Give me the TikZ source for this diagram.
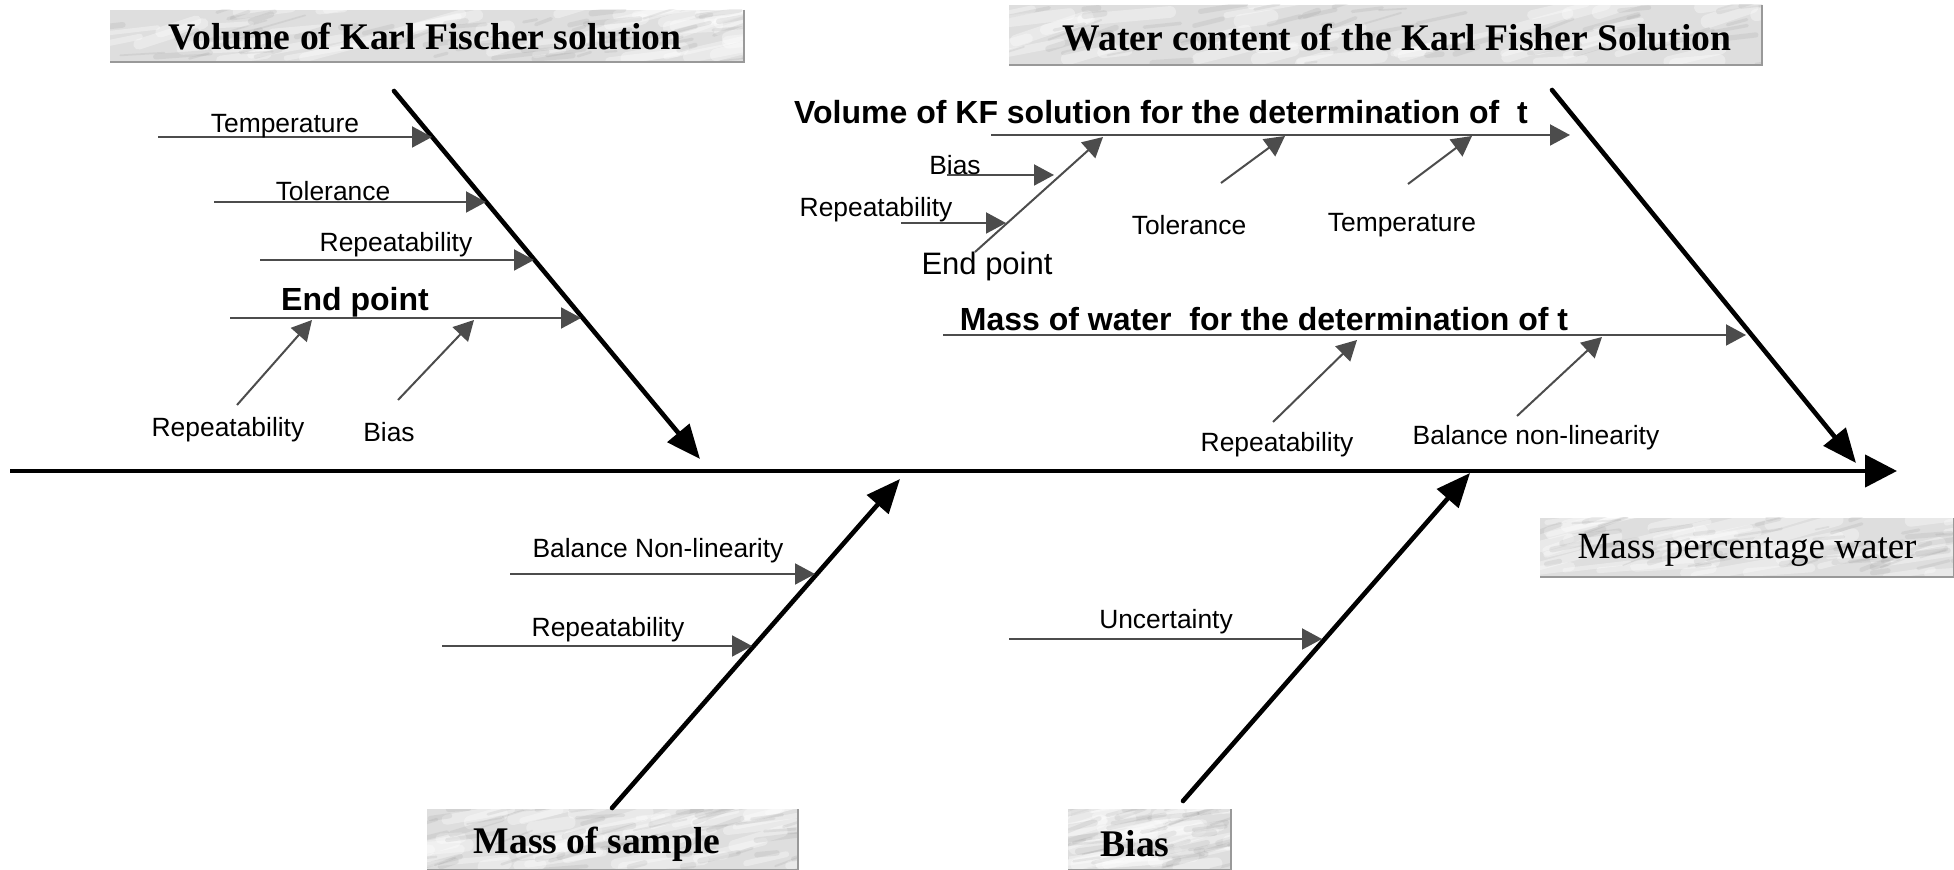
\documentclass[tikz,border=0pt]{standalone}
\usepackage{fontspec}
\setmainfont{Liberation Serif}
\setsansfont{Liberation Sans}
\usetikzlibrary{arrows.meta}

% marble-textured label panel: corners (x1,y1) and (x2,y2)
\newcommand\marblebox[4]{%
  \begin{scope}
    \clip (#1,#2) rectangle (#3,#4);
    \fill[marblebase] (#1,#2) rectangle (#3,#4);
    \foreach \k in {1,...,45}{%
      \pgfmathsetmacro\mx{#1-40+(#3-#1+40)*rnd}%
      \pgfmathsetmacro\my{#2+(#4-#2)*rnd}%
      \pgfmathsetmacro\ml{20+70*rnd}%
      \pgfmathsetmacro\ms{-0.05-0.3*rnd}%
      \pgfmathsetmacro\mw{2+5*rnd}%
      \draw[marblelight, line width=\mw pt] (\mx,\my) -- ++(\ml,\ml*\ms);
    }%
    \foreach \k in {1,...,55}{%
      \pgfmathsetmacro\mx{#1-40+(#3-#1+40)*rnd}%
      \pgfmathsetmacro\my{#2+(#4-#2)*rnd}%
      \pgfmathsetmacro\ml{10+45*rnd}%
      \pgfmathsetmacro\ms{-0.05-0.35*rnd}%
      \pgfmathsetmacro\mw{0.6+2.6*rnd}%
      \draw[marbledark, line width=\mw pt] (\mx,\my) -- ++(\ml,\ml*\ms);
    }%
  \end{scope}
  \draw[boxedge] (#3,#2) -- (#3,#4) -- (#1,#4);
}

\begin{document}
\begin{tikzpicture}[x=0.5pt,y=-0.5pt,
  marblebase/.style={fill=black!13},
  marblelight/.style={draw=white, opacity=.35, line cap=round},
  marbledark/.style={draw=black!50, opacity=.13, line cap=round},
  boxedge/.style={draw=black!40, line width=1.4pt},
  spine/.style={line width=2.2pt, -{Triangle[length=16pt,width=16pt]}},
  bone/.style={line width=2.3pt, line cap=round, -{Triangle[length=17pt,width=14pt]}},
  twig/.style={draw=black!70, line width=1pt, -{Triangle[length=10pt,width=10.5pt]}},
  lbl/.style={font=\sffamily\fontsize{13.2}{15}\selectfont, inner sep=0pt, yshift=-1.5pt},
  biglbl/.style={font=\sffamily\fontsize{15.5}{18}\selectfont, inner sep=0pt},
  blbl/.style={font=\sffamily\bfseries\fontsize{16}{18}\selectfont, inner sep=0pt, yshift=-1pt},
  ttl/.style={font=\bfseries\fontsize{18.8}{21}\selectfont, inner sep=0pt},
  rttl/.style={font=\fontsize{18.5}{21}\selectfont, inner sep=0pt},
]
\useasboundingbox (0,0) rectangle (1954,870);
\pgfmathsetseed{4711}

% ---------- category panels ----------
\marblebox{110}{10}{744}{62}
\node[ttl] (volkf) at (425,37) {Volume of Karl Fischer solution};
\marblebox{1009}{5}{1762}{65}
\node[ttl] (watkf) at (1397,38) {Water content of the Karl Fisher Solution};
\marblebox{427}{809}{798}{870}
\node[ttl] (msamp) at (597,844) {Mass of sample};
\marblebox{1068}{809}{1231}{870}
\node[ttl] (bias) at (1135,844) {Bias};
\marblebox{1540}{518}{1954}{577}
\node[rttl] (mpw) at (1747,550) {Mass percentage water};

% ---------- main spine ----------
\coordinate (sp0) at (10,471);
\coordinate (sp1) at (1897,471);
\draw[spine] (sp0) -- (sp1);

% ---------- bone: volume of KF solution ----------
\coordinate (b1s) at (394,91);
\coordinate (b1e) at (700,459);
\draw[bone] (b1s) -- (b1e);

\coordinate (t1s) at (158,137);  \coordinate (t1e) at (432,137);
\coordinate (t2s) at (214,202);  \coordinate (t2e) at (486,202);
\coordinate (t3s) at (260,260);  \coordinate (t3e) at (534,260);
\coordinate (t4s) at (230,318);  \coordinate (t4e) at (581,318);
\draw[twig] (t1s) -- (t1e);
\draw[twig] (t2s) -- (t2e);
\draw[twig] (t3s) -- (t3e);
\draw[twig] (t4s) -- (t4e);
\node[lbl] (l1) at (285,123) {Temperature};
\node[lbl] (l2) at (333,188) {Tolerance};
\node[lbl] (l3) at (396,242) {Repeatability};
\node[blbl] (l4) at (355,300) {End point};

\coordinate (u1s) at (237,405);  \coordinate (u1e) at (312,320);
\coordinate (u2s) at (398,400);  \coordinate (u2e) at (474,320);
\draw[twig] (u1s) -- (u1e);
\draw[twig] (u2s) -- (u2e);
\node[lbl] (l5) at (228,427) {Repeatability};
\node[lbl] (l6) at (389,429) {Bias};

% ---------- bone: water content of KF solution ----------
\coordinate (b2s) at (1552,90);
\coordinate (b2e) at (1856,463);
\draw[bone] (b2s) -- (b2e);

\coordinate (vks) at (991,135);  \coordinate (vke) at (1570,135);
\draw[twig] (vks) -- (vke);
\node[blbl] (vk) at (1161,110) {Volume of KF solution for the determination of~~t};

\coordinate (eps) at (975,252);  \coordinate (epe) at (1103,137);
\draw[twig] (eps) -- (epe);
\node[biglbl] (ep) at (987,266) {End point};
\coordinate (bis) at (947,175);  \coordinate (bie) at (1054,175);
\draw[twig] (bis) -- (bie);
\node[lbl] (bi) at (955,162) {Bias};
\coordinate (rps) at (901,223);  \coordinate (rpe) at (1006,223);
\draw[twig] (rps) -- (rpe);
\node[lbl] (rp) at (876,207) {Repeatability};

\coordinate (tos) at (1221,183); \coordinate (toe) at (1285,136);
\draw[twig] (tos) -- (toe);
\node[lbl] (to) at (1189,222) {Tolerance};
\coordinate (tes) at (1408,184); \coordinate (tee) at (1472,136);
\draw[twig] (tes) -- (tee);
\node[lbl] (te) at (1402,222) {Temperature};

\coordinate (mws) at (943,335);  \coordinate (mwe) at (1746,335);
\draw[twig] (mws) -- (mwe);
\node[blbl] (mw) at (1264,317) {Mass of water~~for the determination of t};
\coordinate (r2s) at (1273,422); \coordinate (r2e) at (1357,340);
\draw[twig] (r2s) -- (r2e);
\node[lbl] (r2) at (1277,442) {Repeatability};
\coordinate (bns) at (1517,416); \coordinate (bne) at (1602,337);
\draw[twig] (bns) -- (bne);
\node[lbl] (bn) at (1536,435) {Balance non-linearity};

% ---------- bone: mass of sample ----------
\coordinate (b3s) at (612,808);
\coordinate (b3e) at (900,479);
\draw[bone] (b3s) -- (b3e);
\coordinate (m1s) at (510,574);  \coordinate (m1e) at (815,574);
\coordinate (m2s) at (442,646);  \coordinate (m2e) at (752,646);
\draw[twig] (m1s) -- (m1e);
\draw[twig] (m2s) -- (m2e);
\node[lbl] (m1) at (658,548) {Balance Non-linearity};
\node[lbl] (m2) at (608,627) {Repeatability};

% ---------- bone: bias ----------
\coordinate (b4s) at (1183,801);
\coordinate (b4e) at (1470,473);
\draw[bone] (b4s) -- (b4e);
\coordinate (uns) at (1009,639); \coordinate (une) at (1322,639);
\draw[twig] (uns) -- (une);
\node[lbl] (un) at (1166,619) {Uncertainty};
\end{tikzpicture}
\end{document}
